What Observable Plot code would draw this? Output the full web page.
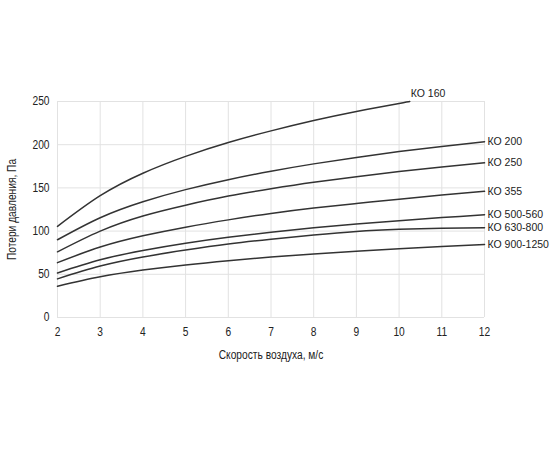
<!DOCTYPE html>
<html>
<head>
<meta charset="utf-8">
<script src="https://cdn.jsdelivr.net/npm/d3@7"></script>
<script src="https://cdn.jsdelivr.net/npm/@observablehq/plot@0.6"></script>
<style>
  html, body { margin: 0; padding: 0; background: #fff; }
</style>
</head>
<body>
<div id="chart"></div>
<script>
const xValues = [2, 3, 4, 5, 6, 7, 8, 9, 10, 11, 12];
const xKO160 = [2, 3, 4, 5, 6, 7, 8, 9, 10, 10.25];
const ko160 = [105.5, 141, 167, 186.5, 202.5, 216, 228, 238.5, 247.8, 250];
const ko200 = [90, 115.5, 134, 148, 159.5, 169.3, 177.8, 185.3, 192, 198, 203.5];
const ko250 = [76, 100, 117.5, 130, 140.5, 149, 156.5, 163, 169, 174.2, 179];
const ko355 = [63.5, 81.5, 94.5, 104.5, 113, 120.5, 126.8, 132, 137, 141.7, 146];
const ko500 = [51.5, 66.8, 77.6, 86, 92.9, 98.7, 103.8, 108.2, 112.1, 115.6, 119];
const ko630 = [44.7, 59.5, 70, 78, 85, 90.6, 95.5, 99.6, 102, 103.3, 104];
const ko900 = [36.2, 47.1, 54.9, 60.9, 65.8, 70, 73.6, 76.7, 79.6, 82.2, 84.5];
const seriesNames = ["КО 160", "КО 200", "КО 250", "КО 355", "КО 500-560", "КО 630-800", "КО 900-1250"];
const xTicks = [2, 3, 4, 5, 6, 7, 8, 9, 10, 11, 12];
const yTicks = [0, 50, 100, 150, 200, 250];

const seriesValues = [ko160, ko200, ko250, ko355, ko500, ko630, ko900];
const data = [];
seriesValues.forEach((vals, i) => {
  const xs = i === 0 ? xKO160 : xValues;
  vals.forEach((v, j) => data.push({series: seriesNames[i], x: xs[j], y: v}));
});
const lastPoints = seriesNames.map(name => {
  const pts = data.filter(d => d.series === name);
  return pts[pts.length - 1];
});

const chart = Plot.plot({
  width: 550,
  height: 450,
  marginLeft: 57,
  marginRight: 66,
  marginTop: 101,
  marginBottom: 133,
  style: {fontFamily: "'Liberation Sans', Arial, sans-serif", fontSize: "12px", color: "#222", background: "#fff"},
  x: {domain: [2, 12]},
  y: {domain: [0, 250]},
  marks: [
    Plot.gridX(xTicks, {stroke: "#e2e2e2", strokeOpacity: 1}),
    Plot.gridY(yTicks, {stroke: "#e2e2e2", strokeOpacity: 1}),
    Plot.axisX({ticks: xTicks, tickSize: 0, tickPadding: 10, label: "Скорость воздуха, м/с", labelAnchor: "center", labelArrow: "none", labelOffset: 41}),
    Plot.axisY({ticks: yTicks, tickSize: 0, tickPadding: 8, label: "Потери давления, Па", labelAnchor: "center", labelArrow: "none", labelOffset: 50}),
    Plot.line(data, {x: "x", y: "y", z: "series", stroke: "#333", strokeWidth: 1.5, curve: "natural"}),
    Plot.text(lastPoints.slice(0, 1), {x: "x", y: "y", text: "series", textAnchor: "start", dx: 1, dy: -8, fill: "#222", fontSize: 10.5}),
    Plot.text(lastPoints.slice(1), {x: "x", y: "y", text: "series", textAnchor: "start", dx: 3, fill: "#222", fontSize: 10.5})
  ]
});
document.getElementById("chart").appendChild(chart);
// condense axis text glyphs horizontally to match the narrow look of the reference
chart.querySelectorAll("g[aria-label^='x-axis'] text, g[aria-label^='y-axis'] text").forEach(t => {
  const len = t.getComputedTextLength();
  if (len > 0) {
    t.setAttribute("textLength", (len * 0.85).toFixed(2));
    t.setAttribute("lengthAdjust", "spacingAndGlyphs");
  }
});
</script>
</body>
</html>
